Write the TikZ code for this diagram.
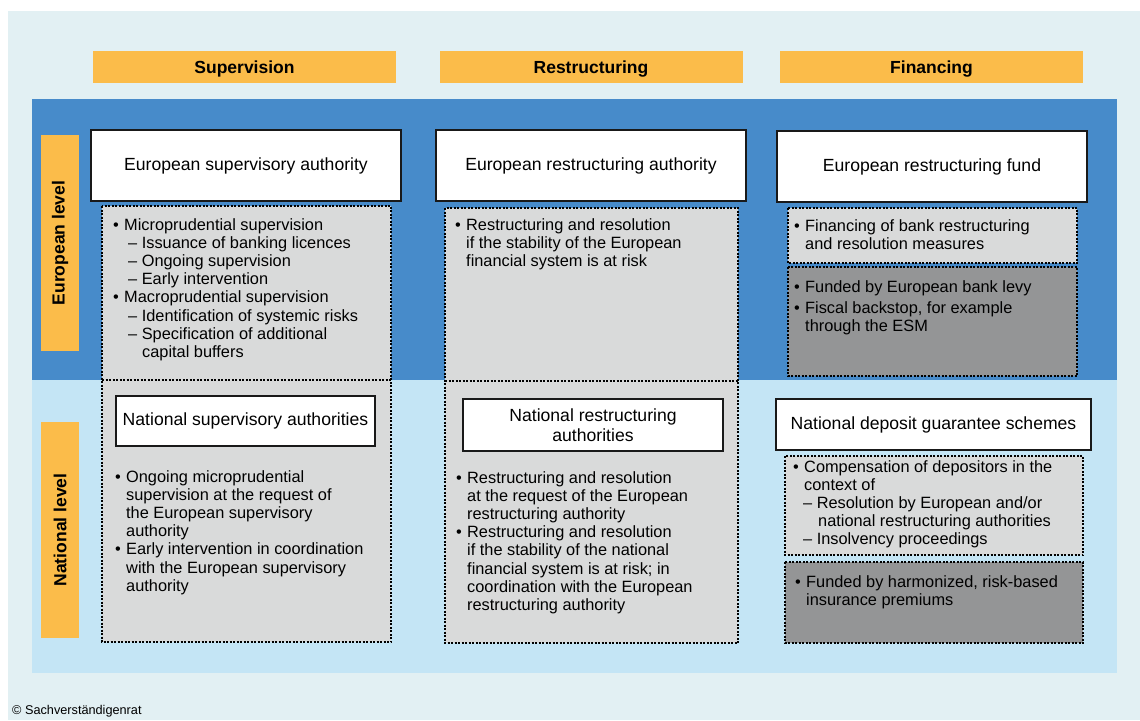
\documentclass[tikz,border=0pt]{standalone}
\usepackage{fontspec}
\setmainfont{Liberation Sans}

\definecolor{bgpale}{HTML}{E2F0F3}
\definecolor{euroblue}{HTML}{478BCA}
\definecolor{natblue}{HTML}{C4E5F5}
\definecolor{orangebar}{HTML}{FBBC4A}
\definecolor{greylite}{HTML}{D9DADA}
\definecolor{greydark}{HTML}{949596}

\newcommand{\bt}{\makebox[11pt][l]{\textbullet}}
\newcommand{\cont}{\hspace*{11pt}}

\begin{document}
\begin{tikzpicture}[x=1pt, y=-1pt,
    head/.style={fill=orangebar, minimum width=303pt, minimum height=32pt, inner sep=0,
        text depth=0pt, font=\fontsize{17.5}{20}\selectfont\bfseries},
    side/.style={fill=orangebar, minimum width=216pt, minimum height=38pt, inner sep=0,
        rotate=90, font=\fontsize{17.5}{20}\selectfont\bfseries},
    title/.style={draw=black!90, line width=1.5pt, fill=white, align=center, inner sep=0,
        font=\fontsize{17.6}{19.5}\selectfont},
    dotbox/.style={line width=2.1pt, dash pattern=on 2pt off 1.5pt},
    body/.style={anchor=north west, inner sep=0, align=left,
        font=\fontsize{16.35}{18.2}\selectfont}]
    \useasboundingbox (0,0) rectangle (1140,720);

    % background and the two levels
    \fill[bgpale] (8,11) rectangle (1140,720);
    \fill[euroblue] (32,99) rectangle (1117,380);
    \fill[natblue] (32,380) rectangle (1117,673);

    % column heads
    \node[head] (hsup) at (244.5,67) {Supervision};
    \node[head] (hres) at (591,67) {Restructuring};
    \node[head] (hfin) at (931.5,67) {Financing};

    % level labels
    \node[side] (leu) at (60,243) {European level};
    \node[side] (lnat) at (60,530) {National level};

    % supervision column
    \fill[greylite] (102,206) rectangle (391,642);
    \draw[dotbox] (102,206) rectangle (391,642);
    \draw[dotbox] (102,380) -- (391,380);
    \node[title, minimum width=310pt, minimum height=71pt] (esa) at (246,165.5)
        {European supervisory authority};
    \node[title, minimum width=259pt, minimum height=50pt] (nsa) at (245.5,421)
        {National supervisory authorities};
    \node[body] (esatxt) at (113,218) {\bt Microprudential supervision\\
        \hspace*{15pt}\textendash\ Issuance of banking licences\\
        \hspace*{15pt}\textendash\ Ongoing supervision\\
        \hspace*{15pt}\textendash\ Early intervention\\
        \bt Macroprudential supervision\\
        \hspace*{15pt}\textendash\ Identification of systemic risks\\
        \hspace*{15pt}\textendash\ Specification of additional\\
        \hspace*{29pt}capital buffers};
    \node[body] (nsatxt) at (115,470) {\bt Ongoing microprudential\\
        \cont supervision at the request of\\
        \cont the European supervisory\\
        \cont authority\\
        \bt Early intervention in coordination\\
        \cont with the European supervisory\\
        \cont authority};

    % restructuring column
    \fill[greylite] (445,208) rectangle (738,643);
    \draw[dotbox] (445,208) rectangle (738,643);
    \draw[dotbox] (445,381) -- (738,381);
    \node[title, minimum width=310pt, minimum height=71pt] (era) at (591,165.5)
        {European restructuring authority};
    \node[title, minimum width=260pt, minimum height=52pt] (nra) at (593,425)
        {National restructuring\\authorities};
    \node[body] (eratxt) at (455,218) {\bt Restructuring and resolution\\
        \cont if the stability of the European\\
        \cont financial system is at risk};
    \node[body] (nratxt) at (456,471) {\bt Restructuring and resolution\\
        \cont at the request of the European\\
        \cont restructuring authority\\
        \bt Restructuring and resolution\\
        \cont if the stability of the national\\
        \cont financial system is at risk; in\\
        \cont coordination with the European\\
        \cont restructuring authority};

    % financing column
    \draw[dotbox, fill=greylite] (788,208) rectangle (1077,263);
    \draw[dotbox, fill=greydark] (788,267) rectangle (1077,376);
    \draw[dotbox, fill=greylite] (785,456) rectangle (1083,555);
    \draw[dotbox, fill=greydark] (785,562) rectangle (1083,643);
    \node[title, minimum width=310pt, minimum height=71pt] (erf) at (932,166.5)
        {European restructuring fund};
    \node[title, minimum width=315pt, minimum height=51pt] (ndg) at (933.5,424.5)
        {National deposit guarantee schemes};
    \node[body] (erftxt) at (794,219) {\bt Financing of bank restructuring\\
        \cont and resolution measures};
    \node[body] (levytxt) at (794,280) {\bt Funded by European bank levy\\[3.5pt]
        \bt Fiscal backstop, for example\\
        \cont through the ESM};
    \node[body] (ndgtxt) at (793,460) {\bt Compensation of depositors in the\\
        \cont context of\\
        \hspace*{10pt}\textendash\ Resolution by European and/or\\
        \hspace*{25pt}national restructuring authorities\\
        \hspace*{10pt}\textendash\ Insolvency proceedings};
    \node[body] (premtxt) at (795,575) {\bt Funded by harmonized, risk-based\\
        \cont insurance premiums};

    % source
    \node[anchor=base west, inner sep=0, font=\fontsize{12.7}{14}\selectfont] (src)
        at (12,714) {\textcopyright\ Sachverständigenrat};
\end{tikzpicture}
\end{document}
